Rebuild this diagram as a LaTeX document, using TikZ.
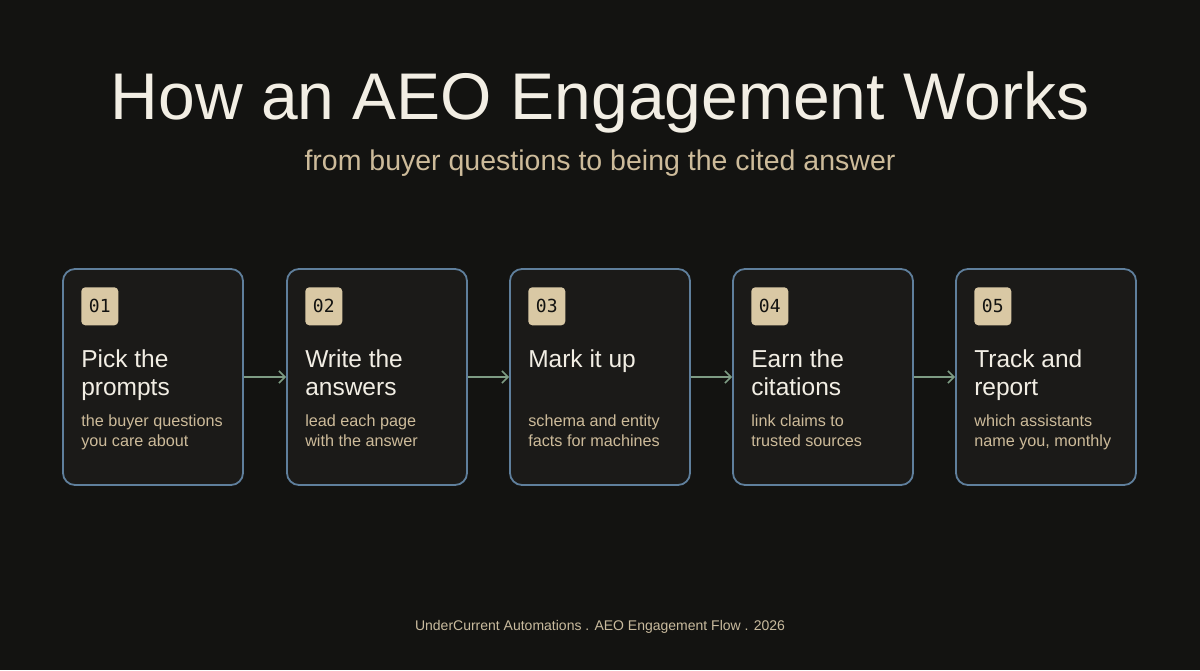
\documentclass[tikz,border=0pt]{standalone}
\usepackage{fontspec}
\setmainfont{Liberation Sans}
\newfontfamily\badgefont{DejaVu Sans Mono}
\usetikzlibrary{positioning,arrows.meta}
\definecolor{bgcol}{HTML}{131311}
\definecolor{boxfill}{HTML}{1B1A18}
\definecolor{boxline}{HTML}{5F7F9C}
\definecolor{tan}{HTML}{D9C8A4}
\definecolor{desccol}{HTML}{CDBB9A}
\definecolor{titlecol}{HTML}{F2EEE4}
\definecolor{arrowcol}{HTML}{7E9C84}
\definecolor{footcol}{HTML}{C9BB9E}
\tikzstyle{none}=[inner sep=0pt]
\tikzstyle{stepbox}=[draw=boxline,fill=boxfill,line width=1.8pt,rounded corners=12pt,minimum width=180pt,minimum height=216pt]
\tikzstyle{badge}=[fill=tan,rounded corners=4pt,minimum width=37pt,minimum height=38pt,inner sep=0pt,text=bgcol,font=\badgefont\fontsize{18}{18}\selectfont]
\tikzstyle{head}=[inner sep=0pt,anchor=north west,align=left,text=titlecol,font=\fontsize{24.5}{28}\selectfont]
\tikzstyle{desc}=[inner sep=0pt,anchor=north west,align=left,text=desccol,font=\fontsize{16.2}{20}\selectfont]
\tikzstyle{flow}=[draw=arrowcol,line width=1.6pt,-{Straight Barb[length=6pt,width=12pt]}]

\begin{document}
\begin{tikzpicture}[x=1pt,y=-1pt]
	\fill[bgcol] (0,0) rectangle (1200,670);
	\useasboundingbox (0,0) rectangle (1200,670);
	\node [style=none,text=titlecol,font=\fontsize{66}{66}\selectfont] (title) at (600,102) {How an AEO Engagement Works};
	\node [style=none,text=desccol,font=\fontsize{28.5}{28.5}\selectfont] (sub) at (600,163) {from buyer questions to being the cited answer};
	% steps
	\node [style=stepbox] (s1) at (153,377) {};
	\node [style=stepbox] (s2) at (377,377) {};
	\node [style=stepbox] (s3) at (600,377) {};
	\node [style=stepbox] (s4) at (823,377) {};
	\node [style=stepbox] (s5) at (1046,377) {};
	\node [style=badge,anchor=north west] (b1) at ([xshift=19pt,yshift=-19pt]s1.north west) {01};
	\node [style=badge,anchor=north west] (b2) at ([xshift=19pt,yshift=-19pt]s2.north west) {02};
	\node [style=badge,anchor=north west] (b3) at ([xshift=19pt,yshift=-19pt]s3.north west) {03};
	\node [style=badge,anchor=north west] (b4) at ([xshift=19pt,yshift=-19pt]s4.north west) {04};
	\node [style=badge,anchor=north west] (b5) at ([xshift=19pt,yshift=-19pt]s5.north west) {05};
	\node [style=head,below=24pt of b1.south west,anchor=north west] (h1) {Pick the\\prompts};
	\node [style=head,below=24pt of b2.south west,anchor=north west] (h2) {Write the\\answers};
	\node [style=head,below=24pt of b3.south west,anchor=north west] (h3) {Mark it up};
	\node [style=head,below=24pt of b4.south west,anchor=north west] (h4) {Earn the\\citations};
	\node [style=head,below=24pt of b5.south west,anchor=north west] (h5) {Track and\\report};
	\node [style=desc,below=89pt of b1.south west,anchor=north west] (d1) {the buyer questions\\you care about};
	\node [style=desc,below=89pt of b2.south west,anchor=north west] (d2) {lead each page\\with the answer};
	\node [style=desc,below=89pt of b3.south west,anchor=north west] (d3) {schema and entity\\facts for machines};
	\node [style=desc,below=89pt of b4.south west,anchor=north west] (d4) {link claims to\\trusted sources};
	\node [style=desc,below=89pt of b5.south west,anchor=north west] (d5) {which assistants\\name you, monthly};
	\draw[style=flow] (s1) to (s2);
	\draw[style=flow] (s2) to (s3);
	\draw[style=flow] (s3) to (s4);
	\draw[style=flow] (s4) to (s5);
	\node [style=none,text=footcol,font=\fontsize{14}{14}\selectfont] (foot) at (600,627) {UnderCurrent Automations . AEO Engagement Flow . 2026};
\end{tikzpicture}
\end{document}
